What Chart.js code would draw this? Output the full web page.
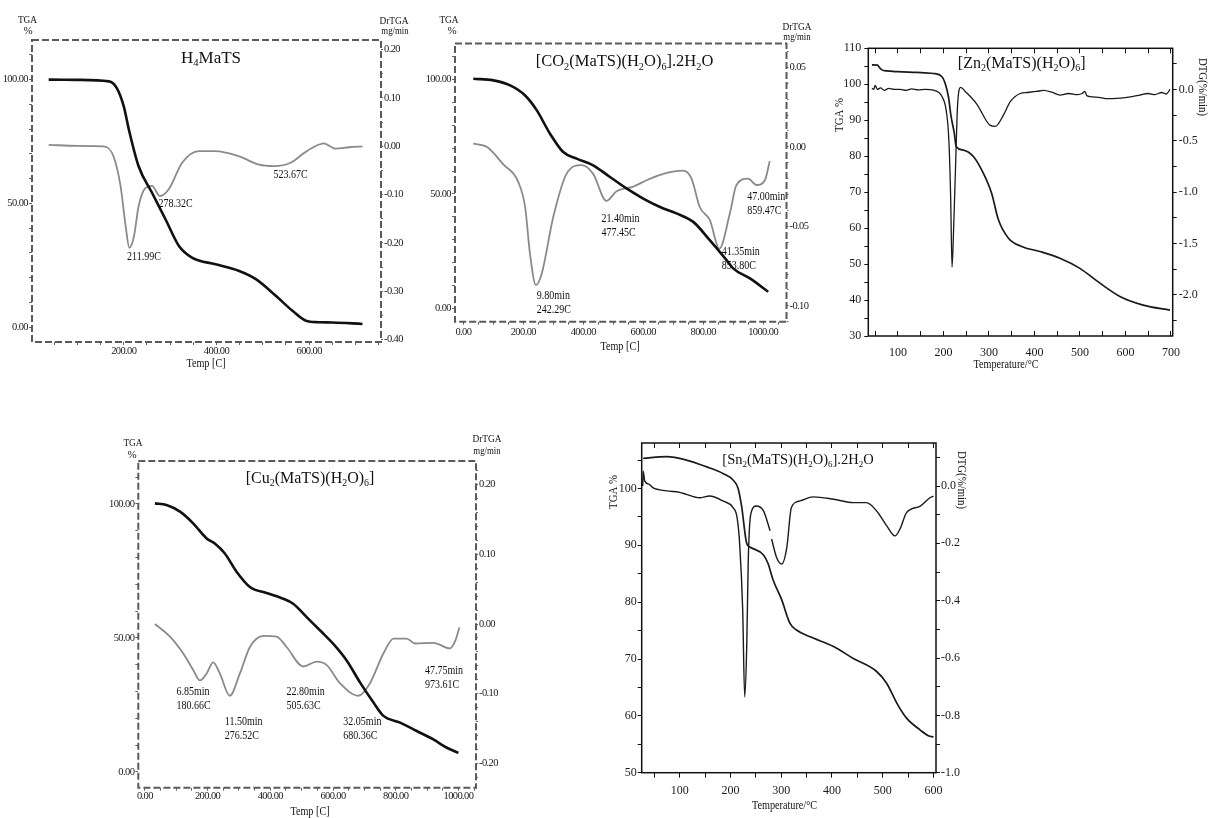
<!DOCTYPE html>
<html>
<head>
<meta charset="utf-8">
<script src="https://cdn.jsdelivr.net/npm/chart.js@4.4.1/dist/chart.umd.min.js"></script>
<style>
  html, body { margin: 0; padding: 0; background: #fff; }
  body { width: 1209px; height: 818px; position: relative; overflow: hidden; }
  canvas { position: absolute; }
</style>
</head>
<body>
<canvas id="pH4" width="420" height="375" style="left:0px;top:0px"></canvas>
<canvas id="pCo" width="410" height="375" style="left:420px;top:0px"></canvas>
<canvas id="pZn" width="384" height="385" style="left:825px;top:0px"></canvas>
<canvas id="pCu" width="420" height="398" style="left:100px;top:420px"></canvas>
<canvas id="pSn" width="395" height="388" style="left:590px;top:430px"></canvas>
<script>
const SERIF = '"Liberation Serif", "Times New Roman", serif';

// ---- H4MaTS ----
const h4TgaT = [38, 100, 168, 185, 200, 211, 232, 261, 290, 319, 348, 398, 449, 485, 528, 564, 593, 620, 650, 715];
const h4TgaV = [100, 99.9, 99.3, 96.6, 89.2, 79.8, 65, 54.3, 43.6, 32.8, 28, 25.4, 22.7, 19.4, 12.7, 6.6, 2.6, 2.0, 1.9, 1.3];
const h4DtgT = [38, 100, 156, 178, 193, 204, 212, 222, 232, 247, 261, 278, 297, 326, 362, 398, 449, 492, 524, 560, 589, 607, 632, 645, 657, 686, 715];
const h4DtgV = [0.003, 0.001, 0.0, -0.021, -0.082, -0.165, -0.21, -0.186, -0.124, -0.086, -0.082, -0.103, -0.089, -0.034, -0.010, -0.010, -0.021, -0.038, -0.041, -0.034, -0.014, -0.003, 0.006, 0.0, -0.005, -0.002, 0.0];
const h4Title = [['H', 0], ['4', 1], ['MaTS', 0]];
const h4Notes = [
  { lines: ['211.99C'], x: 207, y: 28.3 },
  { lines: ['278.32C'], x: 275, y: 49.7 },
  { lines: ['523.67C'], x: 523, y: 61.5 }
];

// ---- [CO2(MaTS)(H2O)6].2H2O ----
const coTgaT = [33, 100, 156, 206, 245, 289, 333, 378, 433, 489, 544, 600, 656, 711, 767, 822, 878, 900, 956, 1017];
const coTgaV = [100.3, 99.6, 97.4, 93, 86.5, 76.3, 68.3, 65.4, 62.5, 57.4, 52.4, 48, 44.3, 41.5, 37.8, 29.8, 21.1, 17.5, 13.1, 7.3];
const coDtgT = [33, 78, 133, 183, 206, 222, 242, 261, 300, 344, 394, 433, 477, 511, 567, 611, 667, 733, 761, 789, 822, 854, 889, 911, 950, 978, 1006, 1022];
const coDtgV = [0.002, 0.0, -0.011, -0.022, -0.038, -0.067, -0.087, -0.080, -0.044, -0.017, -0.0115, -0.017, -0.034, -0.028, -0.025, -0.021, -0.017, -0.015, -0.020, -0.038, -0.046, -0.064, -0.042, -0.024, -0.020, -0.024, -0.021, -0.009];
const coTitle = [['[CO', 0], ['2', 1], ['(MaTS)(H', 0], ['2', 1], ['O)', 0], ['6', 1], ['].2H', 0], ['2', 1], ['O', 0]];
const coNotes = [
  { lines: ['9.80min', '242.29C'], x: 245, y: 5.5 },
  { lines: ['21.40min', '477.45C'], x: 461, y: 39.2 },
  { lines: ['41.35min', '853.80C'], x: 862, y: 24.7 },
  { lines: ['47.00min', '859.47C'], x: 947, y: 48.7 }
];

// ---- [Zn2(MaTS)(H2O)6] ----
const znTgaT = [43, 55, 60, 65, 76, 100, 142, 178, 197, 205, 211, 217, 224, 228, 244, 266, 288, 306, 321, 343, 372, 412, 456, 500, 544, 588, 639, 698];
const znTgaV = [105.4, 105.3, 104.6, 104, 103.7, 103.5, 103.3, 103, 102.1, 99.8, 96.6, 91, 86.4, 82.7, 81.7, 79.9, 75.2, 69.7, 62.3, 57.2, 54.9, 53.5, 51.6, 48.8, 44.7, 41, 38.6, 37.2];
const znDtgT = [43, 47, 50, 55, 62, 70, 80, 92, 105, 118, 130, 145, 160, 178, 190, 197, 206, 212, 216, 219, 222, 227, 231, 238, 248, 273, 303, 314, 332, 347, 369, 385, 405, 420, 440, 456, 475, 495, 505, 511, 515, 522, 545, 560, 581, 600, 615, 632, 650, 665, 680, 690, 698];
const znDtgV = [0.01, 0.0, 0.04, 0.0, 0.015, -0.01, 0.01, 0.0, 0.0, -0.01, 0.005, -0.005, 0.0, -0.006, -0.03, -0.07, -0.2, -0.49, -1.05, -1.73, -1.43, -0.72, -0.17, 0.02, -0.02, -0.14, -0.35, -0.36, -0.25, -0.12, -0.04, -0.03, -0.02, -0.01, -0.03, -0.055, -0.04, -0.05, -0.04, -0.02, -0.06, -0.07, -0.08, -0.09, -0.088, -0.08, -0.07, -0.055, -0.04, -0.05, -0.03, -0.045, 0.0];
const znTitle = [['[Zn', 0], ['2', 1], ['(MaTS)(H', 0], ['2', 1], ['O)', 0], ['6', 1], [']', 0]];

// ---- [Cu2(MaTS)(H2O)6] ----
const cuTgaT = [32, 69, 112, 154, 197, 223, 255, 293, 335, 388, 441, 473, 516, 559, 601, 644, 686, 729, 761, 814, 867, 920, 963, 1000];
const cuTgaV = [100.2, 99.6, 97.1, 92.75, 87.1, 85.2, 81.5, 74.6, 69, 66.75, 64.6, 62.75, 57.75, 52.75, 47.75, 41.5, 33.4, 25.9, 20.9, 18.4, 15.25, 12.1, 9, 7.1];
const cuDtgT = [32, 80, 122, 154, 176, 197, 218, 239, 271, 303, 335, 378, 420, 452, 505, 548, 580, 622, 681, 718, 761, 793, 835, 862, 920, 973, 989, 1003];
const cuDtgV = [0.0, -0.018, -0.042, -0.066, -0.081, -0.071, -0.055, -0.071, -0.103, -0.071, -0.033, -0.017, -0.018, -0.033, -0.061, -0.054, -0.059, -0.085, -0.103, -0.085, -0.042, -0.021, -0.021, -0.028, -0.027, -0.035, -0.025, -0.005];
const cuTitle = [['[Cu', 0], ['2', 1], ['(MaTS)(H', 0], ['2', 1], ['O)', 0], ['6', 1], [']', 0]];
const cuNotes = [
  { lines: ['6.85min', '180.66C'], x: 101, y: 29.9 },
  { lines: ['11.50min', '276.52C'], x: 255, y: 18.7 },
  { lines: ['22.80min', '505.63C'], x: 452, y: 29.9 },
  { lines: ['32.05min', '680.36C'], x: 633, y: 18.7 },
  { lines: ['47.75min', '973.61C'], x: 893, y: 37.8 }
];

// ---- [Sn2(MaTS)(H2O)6].2H2O ----
const snTgaT = [28, 74, 113, 153, 186, 205, 215, 222, 232, 238, 265, 274, 284, 301, 317, 330, 357, 403, 442, 488, 508, 528, 547, 574, 590, 600];
const snTgaV = [105.3, 105.6, 105, 103.8, 102.6, 101.5, 100, 96.8, 90.3, 89.7, 88.3, 86.8, 83.9, 80.4, 76.3, 75.1, 73.9, 72.2, 70.1, 67.8, 65.7, 62.2, 59.6, 57.5, 56.5, 56.3];
const snDtgT = [27, 28, 31, 40, 47, 74, 100, 113, 139, 159, 185, 205, 213, 218, 224, 228, 232, 235, 240, 251, 265, 278, 280, 281, 291, 301, 311, 320, 337, 363, 403, 442, 468, 488, 508, 524, 534, 547, 574, 593, 600];
const snDtgV = [0.0, 0.052, 0.017, 0.006, -0.006, -0.017, -0.022, -0.029, -0.041, -0.035, -0.052, -0.075, -0.11, -0.2, -0.43, -0.736, -0.56, -0.26, -0.098, -0.07, -0.087, -0.156, null, -0.185, -0.25, -0.272, -0.214, -0.075, -0.052, -0.038, -0.046, -0.058, -0.058, -0.087, -0.139, -0.174, -0.15, -0.093, -0.07, -0.041, -0.035];
const snTitle = [['[Sn', 0], ['2', 1], ['(MaTS)(H', 0], ['2', 1], ['O)', 0], ['6', 1], ['].2H', 0], ['2', 1], ['O', 0]];

// extra drawing per canvas: frame, rich title, free text, peak notes
const decor = {};

function drawText(ctx, t, ox, oy) {
  ctx.save();
  ctx.translate(t.x - ox, t.y - oy);
  if (t.rot) ctx.rotate(t.rot * Math.PI / 180);
  ctx.scale(t.sx || 1, 1);
  ctx.font = `${t.size || 12}px ${SERIF}`;
  ctx.textAlign = t.align || 'center';
  ctx.textBaseline = 'middle';
  ctx.fillText(t.s, 0, 0);
  ctx.restore();
}

function drawRich(ctx, segs, cx, cy, size) {
  const sub = size * 0.62;
  let w = 0;
  segs.forEach(([s, k]) => {
    ctx.font = `${k ? sub : size}px ${SERIF}`;
    w += ctx.measureText(s).width;
  });
  let x = cx - w / 2;
  const base = cy + size * 0.33;
  ctx.textAlign = 'left';
  ctx.textBaseline = 'alphabetic';
  segs.forEach(([s, k]) => {
    ctx.font = `${k ? sub : size}px ${SERIF}`;
    ctx.fillText(s, x, k ? base + size * 0.2 : base);
    x += ctx.measureText(s).width;
  });
}

const decorPlugin = {
  id: 'decor',
  beforeDraw(chart) {
    const d = decor[chart.canvas.id];
    chart.ctx.letterSpacing = d && d.tight ? '-0.6px' : '0px';
  },
  afterDraw(chart) {
    const d = decor[chart.canvas.id];
    if (!d) return;
    const ctx = chart.ctx, a = chart.chartArea;
    ctx.save();
    ctx.letterSpacing = '0px';
    ctx.strokeStyle = d.frame.color;
    ctx.lineWidth = d.frame.width;
    ctx.setLineDash(d.frame.dash);
    ctx.strokeRect(a.left, a.top, a.right - a.left, a.bottom - a.top);
    ctx.setLineDash([]);
    ctx.fillStyle = '#111';
    drawRich(ctx, d.title, d.titleX - d.g.left, d.titleY - d.g.top, d.titleSize);
    d.texts.forEach(t => drawText(ctx, t, d.g.left, d.g.top));
    const xs = chart.scales.x, ys = chart.scales.y;
    (d.notes || []).forEach(n => {
      const px = xs.getPixelForValue(n.x), py = ys.getPixelForValue(n.y);
      n.lines.forEach((l, i) => drawText(ctx, { s: l, x: px, y: py + i * 14, size: 12.5, sx: 0.8, align: 'left' }, 0, 0));
    });
    ctx.restore();
  }
};

function tickEvery(major, fmt) {
  const m = Math.round(major * 1000);
  return v => (Math.abs(Math.round(v * 1000) % m) === 0 ? fmt(v) : '');
}

function axis(o) {
  const horiz = o.pos === 'top' || o.pos === 'bottom';
  return {
    type: 'linear', position: o.pos, min: o.min, max: o.max,
    ticks: {
      display: o.labels !== false,
      stepSize: o.step, autoSkip: false, includeBounds: false, maxRotation: 0,
      padding: o.pad, color: '#1a1a1a',
      font: { family: SERIF, size: o.font || 11 },
      callback: tickEvery(o.major, o.fmt)
    },
    grid: { drawOnChartArea: false, tickLength: o.tl, color: o.tc, lineWidth: 1 },
    border: { display: false },
    afterFit: s => {
      if (horiz) { s.height = o.size; s.paddingLeft = 0; s.paddingRight = 0; }
      else { s.width = o.size; s.paddingTop = 0; s.paddingBottom = 0; }
    }
  };
}

function series(xs, ys, color, width, axisId) {
  return {
    data: xs.map((x, i) => ({ x, y: ys[i] })),
    borderColor: color, borderWidth: width, pointRadius: 0,
    cubicInterpolationMode: 'monotone', yAxisID: axisId, xAxisID: 'x',
    fill: false, spanGaps: false
  };
}

function makePanel(id, g, scales, datasets, d) {
  d.g = g;
  decor[id] = d;
  return new Chart(document.getElementById(id), {
    type: 'line',
    data: { datasets },
    options: {
      responsive: false, animation: false, devicePixelRatio: 1,
      layout: { padding: { top: g.T - g.top, left: 0, right: 0, bottom: 0 } },
      plugins: { legend: { display: false }, tooltip: { enabled: false } },
      scales
    },
    plugins: [decorPlugin]
  });
}

const oldFrame = { color: '#5a5a5a', width: 2, dash: [7, 3] };
const newFrame = { color: '#111', width: 1.5, dash: [] };
const f2 = v => v.toFixed(2);
const f1 = v => v.toFixed(1);
const f0 = v => String(Math.round(v));
const f2nz = v => (v === 0 ? '' : v.toFixed(2));

// ---- panel 1 ----
{
  const g = { left: 0, top: 0, w: 420, h: 375, L: 32, T: 40, R: 381, B: 342 };
  makePanel('pH4', g, {
    x: axis({ pos: 'bottom', min: 2, max: 755, step: 50, major: 200, fmt: f2nz, tl: 3, pad: 0, tc: '#666', size: g.top + g.h - g.B, font: 10.5 }),
    y: axis({ pos: 'left', min: -6, max: 116, step: 10, major: 50, fmt: f2, tl: 3, pad: 1, tc: '#666', size: g.L - g.left, font: 10.5 }),
    y2: axis({ pos: 'right', min: -0.405, max: 0.22, step: 0.05, major: 0.1, fmt: f2, tl: 2, pad: 1, tc: '#666', size: g.left + g.w - g.R, font: 10.5 })
  }, [
    series(h4TgaT, h4TgaV, '#111', 2.6, 'y'),
    series(h4DtgT, h4DtgV, '#8a8a8a', 1.8, 'y2')
  ], {
    tight: true, frame: oldFrame, title: h4Title, titleX: 211, titleY: 57, titleSize: 17,
    notes: h4Notes,
    texts: [
      { s: 'TGA', x: 27.5, y: 20, size: 11, sx: 0.85 },
      { s: '%', x: 28, y: 31, size: 11 },
      { s: 'DrTGA', x: 394, y: 21, size: 11, sx: 0.85 },
      { s: 'mg/min', x: 395, y: 31, size: 11, sx: 0.8 },
      { s: 'Temp [C]', x: 206, y: 364, size: 12, sx: 0.85 }
    ]
  });
}

// ---- panel 2 ----
{
  const g = { left: 420, top: 0, w: 410, h: 375, L: 455, T: 43.5, R: 786.5, B: 321.7 };
  makePanel('pCo', g, {
    x: axis({ pos: 'bottom', min: -28, max: 1078, step: 50, major: 200, fmt: f2, tl: 3, pad: 1, tc: '#666', size: g.top + g.h - g.B, font: 10.5 }),
    y: axis({ pos: 'left', min: -5.8, max: 115.7, step: 10, major: 50, fmt: f2, tl: 3, pad: 1, tc: '#666', size: g.L - g.left, font: 10.5 }),
    y2: axis({ pos: 'right', min: -0.11, max: 0.065, step: 0.01, major: 0.05, fmt: f2, tl: 2, pad: 1, tc: '#666', size: g.left + g.w - g.R, font: 10.5 })
  }, [
    series(coTgaT, coTgaV, '#111', 2.6, 'y'),
    series(coDtgT, coDtgV, '#8a8a8a', 1.8, 'y2')
  ], {
    tight: true, frame: oldFrame, title: coTitle, titleX: 624.5, titleY: 61, titleSize: 16.5,
    notes: coNotes,
    texts: [
      { s: 'TGA', x: 449, y: 20, size: 11, sx: 0.85 },
      { s: '%', x: 452, y: 31, size: 11 },
      { s: 'DrTGA', x: 797, y: 27, size: 11, sx: 0.85 },
      { s: 'mg/min', x: 797, y: 37, size: 11, sx: 0.8 },
      { s: 'Temp [C]', x: 620, y: 347, size: 12, sx: 0.85 }
    ]
  });
}

// ---- panel 3 ----
{
  const g = { left: 825, top: 0, w: 384, h: 385, L: 868.3, T: 48.3, R: 1172.7, B: 336 };
  makePanel('pZn', g, {
    x: axis({ pos: 'bottom', min: 35, max: 704, step: 50, major: 100, fmt: f0, tl: -5, pad: 15, tc: '#111', size: g.top + g.h - g.B, font: 12 }),
    x2: axis({ pos: 'top', min: 35, max: 704, step: 50, major: 100, fmt: f0, tl: -5, pad: 0, tc: '#111', size: 0, labels: false }),
    y: axis({ pos: 'left', min: 30, max: 110, step: 5, major: 10, fmt: f0, tl: 4, pad: 3, tc: '#111', size: g.L - g.left, font: 12 }),
    y2: axis({ pos: 'right', min: -2.4, max: 0.4, step: 0.25, major: 0.5, fmt: f1, tl: 4, pad: 2, tc: '#111', size: g.left + g.w - g.R, font: 12 })
  }, [
    series(znTgaT, znTgaV, '#1a1a1a', 1.7, 'y'),
    series(znDtgT, znDtgV, '#1a1a1a', 1.3, 'y2')
  ], {
    frame: newFrame, title: znTitle, titleX: 1021.7, titleY: 63, titleSize: 16,
    texts: [
      { s: 'TGA %', x: 840, y: 115, size: 12, rot: -90, sx: 0.9 },
      { s: 'DTG(%/min)', x: 1202, y: 87, size: 12, rot: 90, sx: 0.9 },
      { s: 'Temperature/°C', x: 1006, y: 365, size: 12, sx: 0.85 }
    ]
  });
}

// ---- panel 4 ----
{
  const g = { left: 100, top: 420, w: 420, h: 398, L: 138.3, T: 461, R: 476, B: 787.7 };
  makePanel('pCu', g, {
    x: axis({ pos: 'bottom', min: -21, max: 1056, step: 50, major: 200, fmt: f2, tl: 3, pad: -1, tc: '#666', size: g.top + g.h - g.B, font: 10.5 }),
    y: axis({ pos: 'left', min: -5.9, max: 116, step: 10, major: 50, fmt: f2, tl: 3, pad: 1, tc: '#666', size: g.L - g.left, font: 10.5 }),
    y2: axis({ pos: 'right', min: -0.235, max: 0.234, step: 0.02, major: 0.1, fmt: f2, tl: 2, pad: 1, tc: '#666', size: g.left + g.w - g.R, font: 10.5 })
  }, [
    series(cuTgaT, cuTgaV, '#111', 2.6, 'y'),
    series(cuDtgT, cuDtgV, '#8a8a8a', 1.8, 'y2')
  ], {
    tight: true, frame: oldFrame, title: cuTitle, titleX: 310, titleY: 478, titleSize: 16,
    notes: cuNotes,
    texts: [
      { s: 'TGA', x: 133, y: 443, size: 11, sx: 0.85 },
      { s: '%', x: 132, y: 455, size: 11 },
      { s: 'DrTGA', x: 487, y: 439, size: 11, sx: 0.85 },
      { s: 'mg/min', x: 487, y: 451, size: 11, sx: 0.8 },
      { s: 'Temp [C]', x: 310, y: 812, size: 12, sx: 0.85 }
    ]
  });
}

// ---- panel 5 ----
{
  const g = { left: 590, top: 430, w: 395, h: 388, L: 641.7, T: 443, R: 936, B: 772.7 };
  makePanel('pSn', g, {
    x: axis({ pos: 'bottom', min: 25, max: 605, step: 50, major: 100, fmt: f0, tl: 5, pad: 6, tc: '#111', size: g.top + g.h - g.B, font: 12 }),
    x2: axis({ pos: 'top', min: 25, max: 605, step: 50, major: 100, fmt: f0, tl: -5, pad: 0, tc: '#111', size: 0, labels: false }),
    y: axis({ pos: 'left', min: 50, max: 108, step: 5, major: 10, fmt: f0, tl: 4, pad: 1, tc: '#111', size: g.L - g.left, font: 12 }),
    y2: axis({ pos: 'right', min: -1.0, max: 0.15, step: 0.1, major: 0.2, fmt: f1, tl: 4, pad: 1, tc: '#111', size: g.left + g.w - g.R, font: 12 })
  }, [
    series(snTgaT, snTgaV, '#1a1a1a', 1.7, 'y'),
    series(snDtgT, snDtgV, '#1a1a1a', 1.4, 'y2')
  ], {
    frame: newFrame, title: snTitle, titleX: 798, titleY: 459, titleSize: 14.5,
    texts: [
      { s: 'TGA %', x: 613.5, y: 492, size: 12, rot: -90, sx: 0.9 },
      { s: 'DTG(%/min)', x: 961.5, y: 480, size: 12, rot: 90, sx: 0.9 },
      { s: 'Temperature/°C', x: 784.5, y: 806, size: 12, sx: 0.85 }
    ]
  });
}
</script>
</body>
</html>
